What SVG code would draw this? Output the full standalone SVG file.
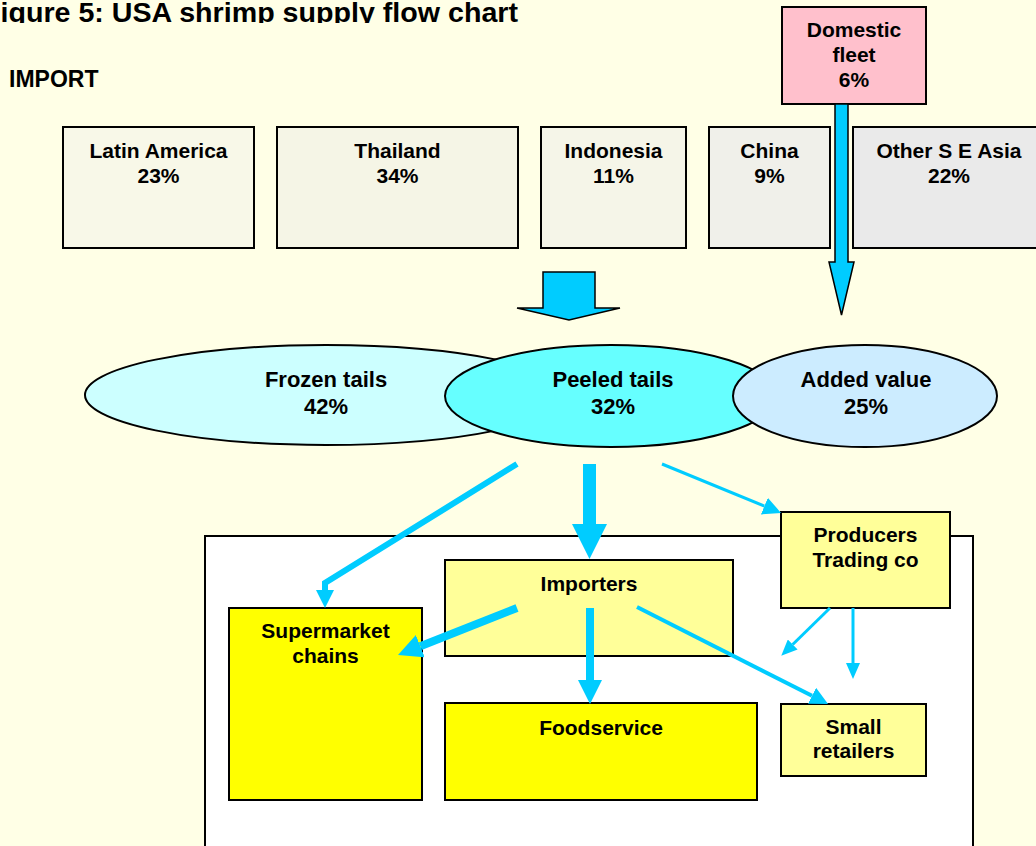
<svg xmlns="http://www.w3.org/2000/svg" width="1036" height="846" viewBox="0 0 1036 846">
<style>
text{font-family:"Liberation Sans",Arial,sans-serif;font-weight:bold;fill:#000;text-anchor:middle}
.box{stroke:#000;stroke-width:2}
.ell{stroke:#000;stroke-width:2}
.lbl{font-size:21px}
.elbl{font-size:22px}
.con{stroke:#00CCFF;fill:none;stroke-linecap:butt;stroke-linejoin:miter}
.block{fill:#00CCFF;stroke:#000;stroke-width:1.5;stroke-linejoin:miter}
</style>
<defs>
<clipPath id="titleClip"><rect x="0" y="0" width="1036" height="23"/></clipPath>
<marker id="hXL" markerUnits="userSpaceOnUse" viewBox="0 0 35 35" refX="0" refY="17.5" markerWidth="35" markerHeight="35" orient="auto"><path d="M0,0 L35,17.5 L0,35 z" fill="#00CCFF"/></marker>
<marker id="hL" markerUnits="userSpaceOnUse" viewBox="0 0 24 24" refX="0" refY="12" markerWidth="24" markerHeight="24" orient="auto"><path d="M0,0 L24,12 L0,24 z" fill="#00CCFF"/></marker>
<marker id="hM" markerUnits="userSpaceOnUse" viewBox="0 0 18 18" refX="0" refY="9" markerWidth="18" markerHeight="18" orient="auto"><path d="M0,0 L18,9 L0,18 z" fill="#00CCFF"/></marker>
<marker id="hS" markerUnits="userSpaceOnUse" viewBox="0 0 16 14" refX="0" refY="7" markerWidth="16" markerHeight="14" orient="auto"><path d="M0,0 L16,7 L0,14 z" fill="#00CCFF"/></marker>
</defs>
<rect x="0" y="0" width="1036" height="846" fill="#FFFFE6"/>

<g id="title" clip-path="url(#titleClip)">
<text x="-17" y="22" style="font-size:28px;text-anchor:start" textLength="535" lengthAdjust="spacingAndGlyphs">Figure 5: USA shrimp supply flow chart</text>
</g>
<g id="import-label"><text x="9" y="87" style="font-size:23px;text-anchor:start">IMPORT</text></g>

<g id="latin-america"><rect class="box" x="63" y="127" width="191" height="121" fill="#F8F8E8"/><text class="lbl" x="158.5" y="158">Latin America</text><text class="lbl" x="158.5" y="183">23%</text></g>
<g id="thailand"><rect class="box" x="277" y="127" width="241" height="121" fill="#F5F5E6"/><text class="lbl" x="397.5" y="158">Thailand</text><text class="lbl" x="397.5" y="183">34%</text></g>
<g id="indonesia"><rect class="box" x="541" y="127" width="145" height="121" fill="#F5F5E8"/><text class="lbl" x="613.5" y="158">Indonesia</text><text class="lbl" x="613.5" y="183">11%</text></g>
<g id="china"><rect class="box" x="709" y="127" width="121" height="121" fill="#F0F0EA"/><text class="lbl" x="769.5" y="158">China</text><text class="lbl" x="769.5" y="183">9%</text></g>
<g id="other-se-asia"><rect class="box" x="853" y="127" width="192" height="121" fill="#EAEAEA"/><text class="lbl" x="949" y="158">Other S E Asia</text><text class="lbl" x="949" y="183">22%</text></g>

<g id="domestic-fleet"><rect class="box" x="782" y="7" width="144" height="97" fill="#FFC0CC"/><text class="lbl" x="854" y="37">Domestic</text><text class="lbl" x="854" y="62">fleet</text><text class="lbl" x="854" y="87">6%</text></g>

<g id="block-arrows">
<polygon class="block" points="835,104 848,104 848,262 854,262 841.5,315 829,262 835,262"/>
<polygon class="block" points="543,272 595,272 595,308 620,308 569,320 517,308 543,308"/>
</g>

<g id="frozen-tails"><ellipse class="ell" cx="326" cy="395" rx="241" ry="50" fill="#CCFFFF"/><text class="elbl" x="326" y="387">Frozen tails</text><text class="elbl" x="326" y="414">42%</text></g>
<g id="peeled-tails"><ellipse class="ell" cx="611" cy="396" rx="166" ry="51" fill="#66FFFF"/><text class="elbl" x="613" y="387">Peeled tails</text><text class="elbl" x="613" y="414">32%</text></g>
<g id="added-value"><ellipse class="ell" cx="865" cy="396" rx="132" ry="51" fill="#CCECFF"/><text class="elbl" x="866" y="387">Added value</text><text class="elbl" x="866" y="414">25%</text></g>

<g id="market-frame"><rect x="205" y="536" width="768" height="330" fill="#FFFFFF" stroke="#000" stroke-width="2"/></g>

<g id="importers"><rect class="box" x="445" y="560" width="288" height="96" fill="#FFFF99"/><text class="lbl" x="589" y="591">Importers</text></g>
<g id="supermarket-chains"><rect class="box" x="229" y="608" width="193" height="192" fill="#FFFF00"/><text class="lbl" x="325.5" y="638">Supermarket</text><text class="lbl" x="325.5" y="663">chains</text></g>
<g id="foodservice"><rect class="box" x="445" y="703" width="312" height="97" fill="#FFFF00"/><text class="lbl" x="601" y="735">Foodservice</text></g>
<g id="small-retailers"><rect class="box" x="781" y="704" width="145" height="72" fill="#FFFF99"/><text class="lbl" x="853.5" y="734">Small</text><text class="lbl" x="853.5" y="758">retailers</text></g>
<g id="producers-trading"><rect class="box" x="781" y="512" width="169" height="96" fill="#FFFF99"/><text class="lbl" x="865.5" y="542">Producers</text><text class="lbl" x="865.5" y="567">Trading co</text></g>

<g id="connectors">
<path class="con" d="M517,464 L325,583 L325,590" stroke-width="6" marker-end="url(#hM)"/>
<path class="con" d="M589.5,464 L589.5,524" stroke-width="13" marker-end="url(#hXL)"/>
<path class="con" d="M662,464 L764.4,506.1" stroke-width="3" marker-end="url(#hM)"/>
<path class="con" d="M517,608 L420.3,646.2" stroke-width="8" marker-end="url(#hL)"/>
<path class="con" d="M590,608 L590,680" stroke-width="8" marker-end="url(#hL)"/>
<path class="con" d="M637,607 L812,695.8" stroke-width="4" marker-end="url(#hM)"/>
<path class="con" d="M830,608 L792.7,644.5" stroke-width="3" marker-end="url(#hS)"/>
<path class="con" d="M853,608 L853,663" stroke-width="3" marker-end="url(#hS)"/>
</g>
</svg>
